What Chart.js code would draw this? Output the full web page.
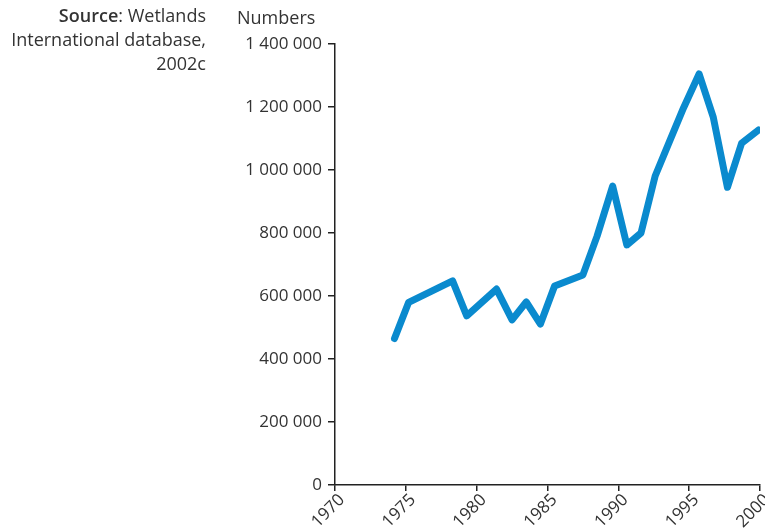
<!DOCTYPE html>
<html>
<head>
<meta charset="utf-8">
<script src="https://cdn.jsdelivr.net/npm/chart.js@4"></script>
<style>
  html, body { margin: 0; padding: 0; background: #fff; }
  #wrap { position: relative; width: 765px; height: 531px; font-family: "Open Sans", sans-serif; font-weight: 400; color: #333; }
  #source { position: absolute; right: 559px; top: 3px; text-align: right; font-size: 18px; line-height: 24px; }
  #ytitle { position: absolute; left: 237px; top: 5px; font-size: 18px; }
  canvas { position: absolute; left: 0; top: 0; }
</style>
</head>
<body>
<div id="wrap">
  <canvas id="chart" width="765" height="531"></canvas>
  <div id="source"><b style="font-weight:600">Source</b>: Wetlands<br>International database,<br>2002c</div>
  <div id="ytitle">Numbers</div>
</div>
<script>
// positions (decimal years) and counts
const years = [1974.2, 1975.2, 1978.3, 1979.3, 1981.4, 1982.5, 1983.5, 1984.5, 1985.5, 1987.5,
               1988.5, 1989.6, 1990.6, 1991.6, 1992.6, 1993.6, 1994.6, 1995.7, 1996.7, 1997.7,
               1998.7, 1999.9];
const numbers = [465000, 580000, 648000, 537000, 622000, 524000, 581000, 511000, 632000, 667000,
                 790000, 949000, 762000, 800000, 981000, 1089000, 1197000, 1305000, 1168000, 945000,
                 1085000, 1127000];
const xTicks = [1970, 1975, 1980, 1985, 1990, 1995, 2000];
const yTicks = [0, 200000, 400000, 600000, 800000, 1000000, 1200000, 1400000];

const fmt = v => String(v).replace(/\B(?=(\d{3})+(?!\d))/g, ' ');
const tickFont = { family: 'Open Sans', size: 17, weight: 400 };

new Chart(document.getElementById('chart'), {
    type: 'line',
    data: {
        datasets: [{
            data: years.map((y, i) => ({ x: y, y: numbers[i] })),
            borderColor: '#0a8ace',
            borderWidth: 7,
            borderJoinStyle: 'round',
            borderCapStyle: 'round',
            pointRadius: 0,
            tension: 0,
        }]
    },
    options: {
        responsive: false,
        animation: false,
        layout: { padding: { top: 44, right: 5, left: 0, bottom: 0 } },
        plugins: { legend: { display: false }, tooltip: { enabled: false } },
        scales: {
            x: {
                type: 'linear',
                min: 1970,
                max: 2000,
                afterBuildTicks: s => { s.ticks = xTicks.map(v => ({ value: v })); },
                afterFit: s => { s.height = 46; s.paddingRight = 0; s.paddingLeft = 0; },
                border: { color: '#222', width: 1.5 },
                grid: { drawOnChartArea: false, tickLength: 6, color: '#222', lineWidth: 1.5 },
                ticks: {
                    color: '#333',
                    font: tickFont,
                    minRotation: 45,
                    maxRotation: 45,
                    padding: -1,
                    labelOffset: 7,
                    callback: v => String(v)
                }
            },
            y: {
                min: 0,
                max: 1400000,
                afterBuildTicks: s => { s.ticks = yTicks.map(v => ({ value: v })); },
                afterFit: s => { s.width = 335; s.paddingTop = 0; s.paddingBottom = 0; },
                border: { color: '#222', width: 1.5 },
                grid: { drawOnChartArea: false, tickLength: 7, color: '#222', lineWidth: 1.5 },
                ticks: {
                    color: '#333',
                    font: tickFont,
                    padding: 6,
                    callback: v => fmt(v)
                }
            }
        }
    }
});
</script>
</body>
</html>
